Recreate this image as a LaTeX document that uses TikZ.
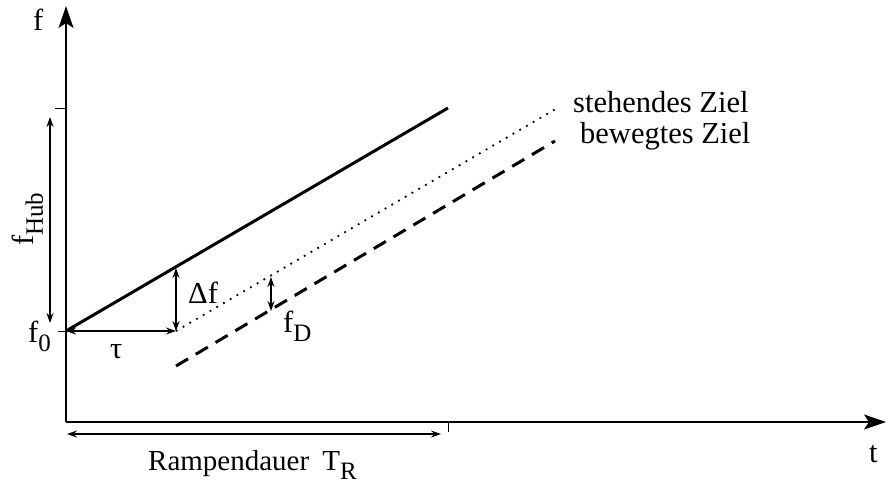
\documentclass[tikz,border=0pt]{standalone}
\usepackage{fontspec}
\setmainfont{Liberation Serif}
\usetikzlibrary{arrows.meta}
\newcommand{\lowr}[1]{\raisebox{-0.32em}{\fontsize{25}{28}\selectfont #1}}
\tikzset{
  axis/.style={line width=1.4pt, -{Stealth[length=22pt,width=15pt,inset=5pt]}},
  dimarrow/.style={line width=1.6pt, {Stealth[length=10pt,width=7pt]}-{Stealth[length=10pt,width=7pt]}},
  lbl/.style={font=\fontsize{30.5}{34}\selectfont, inner sep=0pt, anchor=base west},
}
\begin{document}
\begin{tikzpicture}[x=1pt,y=-1pt]
\useasboundingbox (0,0) rectangle (886,483);
% axes
\coordinate (o) at (66,422);
\coordinate (ytop) at (66,6);
\coordinate (xend) at (886,422);
\draw[axis] (o) -- (ytop);
\draw[axis] (o) -- (xend);
\coordinate (fmax) at (66,108);
\coordinate (f0) at (66,331);
\coordinate (tr) at (448,422);
\draw[line width=1pt] (fmax) -- ++(-11,0);
\draw[line width=1pt] (f0) -- ++(-8,0);
\draw[line width=1pt] (tr) -- ++(0,10);
% ramps
\coordinate (send) at (448,108);
\coordinate (tau) at (176,331);
\coordinate (stend) at (559,107);
\coordinate (bstart) at (176,366);
\coordinate (bend) at (555,141);
\draw[line width=3pt] (f0) -- (send);
\draw[line width=1.8pt, dash pattern=on 1.8pt off 6pt] (tau) -- (stend);
\draw[line width=3pt, dash pattern=on 14pt off 9pt] (bstart) -- (bend);
% dimensions
\coordinate (hubtop) at (50,117);
\coordinate (hubbot) at (50,323);
\coordinate (dftop) at (176,268);
\coordinate (fdtop) at (271,277);
\coordinate (fdbot) at (271,311);
\coordinate (rl) at (67,434);
\coordinate (rr) at (441,434);
\draw[dimarrow] (hubtop) -- (hubbot);
\draw[dimarrow] (f0) -- (tau);
\draw[dimarrow] (dftop) -- (tau);
\draw[dimarrow] (fdtop) -- (fdbot);
\draw[dimarrow] (rl) -- (rr);
% labels
\node[lbl] (flab) at (33,30) {f};
\node[lbl] (tlab) at (869,462) {t};
\node[lbl] (f0lab) at (28,342) {f\lowr{0}};
\node[lbl, rotate=90] (hublab) at (33,246) {f\lowr{Hub}};
\node[lbl] (taulab) at (110,358) {τ};
\node[lbl] (dflab) at (188,303) {Δf};
\node[lbl] (fdlab) at (283,332) {f\lowr{D}};
\node[lbl, font=\fontsize{29}{33}\selectfont] (ramplab) at (148,470) {Rampendauer\hspace{0.45em}T\lowr{R}};
\node[lbl] (stlab) at (573,112) {stehendes Ziel};
\node[lbl] (bwlab) at (580,143) {bewegtes Ziel};
\end{tikzpicture}
\end{document}
